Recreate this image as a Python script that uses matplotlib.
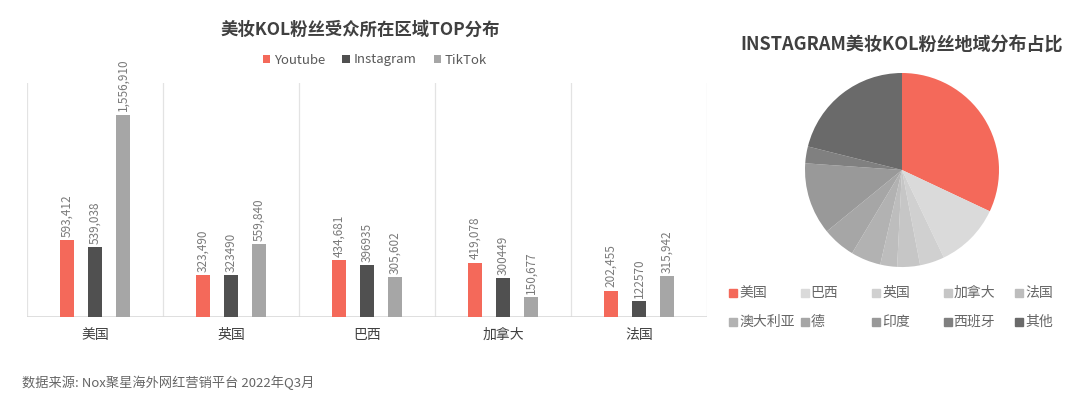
import matplotlib
matplotlib.use('Agg')
import matplotlib.pyplot as plt
import numpy as np
from matplotlib.patches import Rectangle

plt.rcParams['font.family'] = ['Noto Sans CJK SC', 'DejaVu Sans']

# bar chart data
regions = ['美国', '英国', '巴西', '加拿大', '法国']
youtube = [593412, 323490, 434681, 419078, 202455]
instagram = [539038, 323490, 396935, 300449, 122570]
tiktok = [1556910, 559840, 305602, 150677, 315942]
youtube_lbl = ['593,412', '323,490', '434,681', '419,078', '202,455']
instagram_lbl = ['539,038', '323490', '396935', '300449', '122570']
tiktok_lbl = ['1,556,910', '559,840', '305,602', '150,677', '315,942']
series_names = ['Youtube', 'Instagram', 'TikTok']

# pie data (share %)
pie_names = ['美国', '巴西', '英国', '加拿大', '法国',
             '澳大利亚', '德', '印度', '西班牙', '其他']
pie_share = [32.0, 10.9, 4.1, 3.8, 2.8, 5.0, 5.5, 12.0, 2.8, 21.1]

RED = '#F4695A'
DARK = '#505050'
GRAY = '#A6A6A6'
pie_colors = [RED, '#DADADA', '#D0D0D0', '#C6C6C6', '#BDBDBD',
              '#B2B2B2', '#A6A6A6', '#999999', '#808080', '#6A6A6A']

fig = plt.figure(figsize=(10.8, 3.99), dpi=100)

# ---- bar chart ----
ax = fig.add_axes([27 / 1080, 82 / 399, 680 / 1080, 234 / 399])
x = np.arange(len(regions))
w = 0.105
off = 0.205
vals = [youtube, instagram, tiktok]
lbls = [youtube_lbl, instagram_lbl, tiktok_lbl]
cols = [RED, DARK, GRAY]
for k in range(3):
    xs = x + (k - 1) * off
    ax.bar(xs, vals[k], width=w, color=cols[k], label=series_names[k], zorder=3)
    for xi, v, s in zip(xs, vals[k], lbls[k]):
        ax.text(xi, v + 25000, s, rotation=90, ha='center', va='bottom',
                fontsize=8.5, color='#7a7a7a')

ax.set_xlim(-0.5, len(regions) - 0.5)
ax.set_ylim(0, 1800000)
for b in np.arange(-0.5, len(regions), 1.0):
    ax.axvline(b, color='#E3E3E3', lw=0.9, zorder=1)
for s in ax.spines.values():
    s.set_visible(False)
ax.axhline(0, color='#D9D9D9', lw=1.2, zorder=2)
ax.set_yticks([])
ax.set_xticks(x)
ax.set_xticklabels(regions, fontsize=10, color='#404040')
ax.tick_params(axis='x', length=0, pad=8)

fig.text(360 / 1080, 1 - 30 / 399, '美妆KOL粉丝受众所在区域TOP分布',
         ha='center', va='center', fontsize=12.5, fontweight='bold', color='#404040')
fig.legend(*ax.get_legend_handles_labels(), loc='center',
           bbox_to_anchor=(375 / 1080, 1 - 60 / 399), ncol=3, frameon=False,
           fontsize=9.5, handlelength=0.55, handleheight=0.55,
           handletextpad=0.3, columnspacing=1.3, labelcolor='#595959')

fig.text(22 / 1080, 1 - 383 / 399, '数据来源: Nox聚星海外网红营销平台 2022年Q3月',
         ha='left', va='center', fontsize=9.5, color='#666666')

# ---- pie chart ----
pax = fig.add_axes([(902 - 97) / 1080, (399 - 267) / 399, 194 / 1080, 194 / 399])
pax.pie(pie_share, colors=pie_colors, startangle=90, counterclock=False,
        wedgeprops=dict(linewidth=0))
pax.set_xlim(-1, 1)
pax.set_ylim(-1, 1)
pax.set_aspect('equal')

fig.text(902 / 1080, 1 - 45 / 399, 'INSTAGRAM美妆KOL粉丝地域分布占比',
         ha='center', va='center', fontsize=13, fontweight='bold', color='#404040')

# pie legend, 2 rows x 5 columns
for i, (name, c) in enumerate(zip(pie_names, pie_colors)):
    col, row = i % 5, i // 5
    lx = 733 + col * 71.5
    ly = 293 + row * 29
    fig.patches.append(Rectangle(((lx - 4) / 1080, 1 - (ly + 4) / 399),
                                 8 / 1080, 8 / 399, color=c,
                                 transform=fig.transFigure, figure=fig))
    fig.text((lx + 6) / 1080, 1 - ly / 399, name, ha='left', va='center',
             fontsize=10, color='#666666')

fig.savefig('out.png', dpi=100)
